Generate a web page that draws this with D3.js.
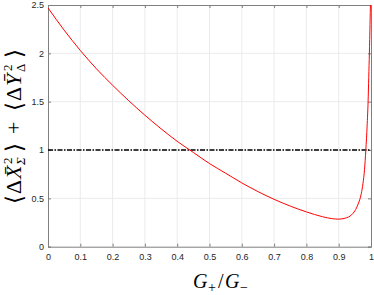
<!DOCTYPE html>
<html>
<head>
<meta charset="utf-8">
<script src="https://cdn.jsdelivr.net/npm/d3@7"></script>
<style>
  body { margin: 0; background: #fff; }
  svg { display: block; }
  .tick text { font-family: "Liberation Sans", Arial, sans-serif; font-size: 9px; fill: #262626; }
  .axis path, .axis line { stroke: #7f7f7f; }
</style>
</head>
<body>
<div id="chart"></div>
<script>
const width = 374;
const height = 295;
const margin = { left: 48, right: 3, top: 5, bottom: 48.3 };

// ratio G+/G- and the summed variances
const ratio = [0, 0.05, 0.1, 0.15, 0.2, 0.25, 0.3, 0.35, 0.4, 0.45, 0.5, 0.55, 0.6, 0.65, 0.7, 0.75,
  0.8, 0.85, 0.88, 0.9, 0.92, 0.94, 0.95, 0.96, 0.97, 0.975, 0.98, 0.984, 0.988, 0.991, 0.993, 0.995, 0.997, 0.9985];
const variance = [2.47, 2.24, 2.03, 1.84, 1.67, 1.51, 1.36, 1.22, 1.09, 0.975, 0.86, 0.76, 0.66, 0.57, 0.49, 0.42,
  0.36, 0.31, 0.29, 0.285, 0.295, 0.33, 0.37, 0.44, 0.55, 0.65, 0.8, 1.0, 1.25, 1.5, 1.75, 2.0, 2.3, 2.55];
const reference = [1, 1];
const referenceX = [0, 1];

const xTicks = [0, 0.1, 0.2, 0.3, 0.4, 0.5, 0.6, 0.7, 0.8, 0.9, 1];
const yTicks = [0, 0.5, 1, 1.5, 2, 2.5];

const x = d3.scaleLinear().domain([0, 1]).range([margin.left, width - margin.right]);
const y = d3.scaleLinear().domain([0, 2.5]).range([height - margin.bottom, margin.top]);

const svg = d3.select("#chart").append("svg")
  .attr("width", width)
  .attr("height", height);

svg.append("defs").append("clipPath").attr("id", "plot-clip")
  .append("rect")
  .attr("x", x(0)).attr("y", y(2.5))
  .attr("width", x(1) - x(0)).attr("height", y(0) - y(2.5));

// grid
svg.append("g").selectAll("line").data(xTicks.slice(1, -1)).join("line")
  .attr("x1", d => x(d)).attr("x2", d => x(d))
  .attr("y1", y(0)).attr("y2", y(2.5))
  .attr("stroke", "#ebebeb");
svg.append("g").selectAll("line").data(yTicks.slice(1, -1)).join("line")
  .attr("x1", x(0)).attr("x2", x(1))
  .attr("y1", d => y(d)).attr("y2", d => y(d))
  .attr("stroke", "#ebebeb");

const fmt = d => d3.format("")(d);

svg.append("g").attr("class", "axis")
  .attr("transform", `translate(0,${y(0)})`)
  .call(d3.axisBottom(x).tickValues(xTicks).tickSize(-3).tickPadding(7).tickFormat(fmt));
svg.append("g").attr("class", "axis")
  .attr("transform", `translate(0,${y(2.5)})`)
  .call(d3.axisTop(x).tickValues(xTicks).tickSize(-3).tickFormat(""));
svg.append("g").attr("class", "axis")
  .attr("transform", `translate(${x(0)},0)`)
  .call(d3.axisLeft(y).tickValues(yTicks).tickSize(-3).tickPadding(4).tickFormat(fmt));
svg.append("g").attr("class", "axis")
  .attr("transform", `translate(${x(1)},0)`)
  .call(d3.axisRight(y).tickValues(yTicks).tickSize(-3).tickFormat(""));
svg.selectAll(".axis .domain").attr("stroke", "#7f7f7f");

const line = d3.line().x(d => x(d[0])).y(d => y(d[1]));

svg.append("path")
  .datum(referenceX.map((d, i) => [d, reference[i]]))
  .attr("d", line)
  .attr("fill", "none")
  .attr("stroke", "#000")
  .attr("stroke-width", 1.5)
  .attr("stroke-dasharray", "5,1.5,1.5,1.5");

svg.append("path")
  .datum(ratio.map((d, i) => [d, variance[i]]))
  .attr("clip-path", "url(#plot-clip)")
  .attr("d", d3.line().curve(d3.curveMonotoneX).x(d => x(d[0])).y(d => y(d[1])))
  .attr("fill", "none")
  .attr("stroke", "#ff0000")
  .attr("stroke-width", 1);

// x label
const xl = svg.append("text")
  .attr("y", 288)
  .attr("font-family", "Liberation Serif, DejaVu Serif, serif")
  .attr("font-size", 20)
  .attr("fill", "#000");
xl.append("tspan").attr("x", 193).attr("font-style", "italic").text("G");
xl.append("tspan").attr("x", 208).attr("font-size", 14).attr("dy", 4).text("+");
xl.append("tspan").attr("x", 218).attr("dy", -4).text("/");
xl.append("tspan").attr("x", 225).attr("font-style", "italic").text("G");
xl.append("tspan").attr("x", 240).attr("font-size", 14).attr("dy", 4).text("\u2212");

// y label, laid out along the rotated baseline
const yl = svg.append("text")
  .attr("transform", "translate(21,204) rotate(-90)")
  .attr("font-family", "Liberation Serif, DejaVu Serif, serif")
  .attr("font-size", 22)
  .attr("fill", "#000");
yl.append("tspan").attr("x", 0).attr("font-size", 23).attr("dy", 1).text("\u27E8");
yl.append("tspan").attr("x", 10).attr("dy", -1).text("\u0394");
yl.append("tspan").attr("x", 25).attr("font-style", "italic").text("X\u0304");
yl.append("tspan").attr("x", 40).attr("font-size", 13).attr("dy", -9).text("2");
yl.append("tspan").attr("x", 39).attr("font-size", 13).attr("font-style", "italic").attr("dy", 13).text("\u03A3");
yl.append("tspan").attr("x", 52).attr("font-size", 23).attr("dy", -3).text("\u27E9");
yl.append("tspan").attr("x", 70).attr("dy", -1).text("+");
yl.append("tspan").attr("x", 93).attr("font-size", 23).attr("dy", 1).text("\u27E8");
yl.append("tspan").attr("x", 103).attr("dy", -1).text("\u0394");
yl.append("tspan").attr("x", 118).attr("font-style", "italic").text("Y\u0304");
yl.append("tspan").attr("x", 133).attr("font-size", 13).attr("dy", -9).text("2");
yl.append("tspan").attr("x", 132).attr("font-size", 13).attr("dy", 13).text("\u0394");
yl.append("tspan").attr("x", 146).attr("font-size", 23).attr("dy", -3).text("\u27E9");
</script>
</body>
</html>
